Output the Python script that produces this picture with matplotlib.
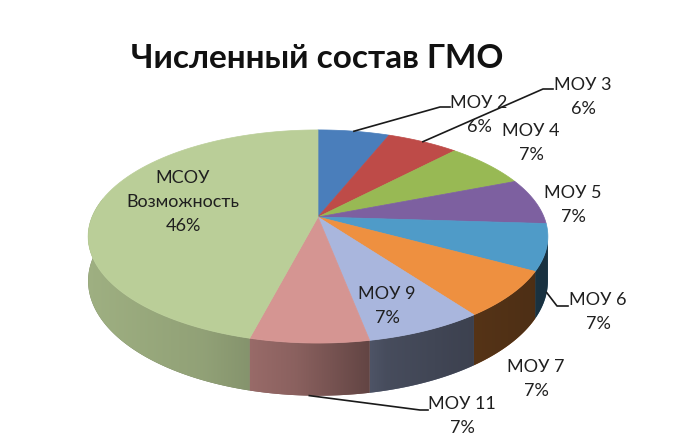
import numpy as np
import matplotlib.pyplot as plt
from matplotlib.colors import to_rgb
from matplotlib.patches import Polygon

# данные диаграммы
labels = ["МОУ 2", "МОУ 3", "МОУ 4", "МОУ 5", "МОУ 6", "МОУ 7", "МОУ 9", "МОУ 11", "МСОУ\nВозможность"]
shares = [6, 6, 7, 7, 7, 7, 7, 7, 46]
colors = ["#4A7EBB", "#BE4B48", "#98B954", "#7D60A0", "#4F9BC8",
          "#EE9040", "#A9B6DD", "#D59592", "#BACE98"]

# положение подписей (центр блока текста) и выноски
label_pos = {
    "МОУ 2": (479, 115), "МОУ 3": (583, 97), "МОУ 4": (531, 143),
    "МОУ 5": (573, 205), "МОУ 6": (598, 312), "МОУ 7": (536, 379),
    "МОУ 9": (387, 306), "МОУ 11": (462, 416), "МСОУ\nВозможность": (183, 202),
}
# (x начала, y, длина горизонтального участка, z на торце: 0 - верх, 1 - низ)
leaders = {
    "МОУ 2": (450, 107, 10, 0),
    "МОУ 3": (553, 89, 10, 0),
    "МОУ 6": (568, 306, 11, 1),
    "МОУ 11": (428, 410, 8, 1),
}

# параметры "3D" эллипса
CX, CY = 318, 217
A, B, K, D = 226, 103, 0.183, 43


def proj(theta, z=0.0):
    t = np.radians(theta)
    u, v = np.cos(t), np.sin(t)
    w = 1 + K * v
    return CX + A * u / w, CY + (-B * v + D * z) / w


def shade(u):
    return np.interp(u, [-1, -0.5, -0.1, 0.3, 0.6, 1],
                     [0.85, 0.78, 0.65, 0.42, 0.37, 0.32])


fig = plt.figure(figsize=(6.78, 4.41), dpi=100)
ax = fig.add_axes([0, 0, 1, 1])
ax.set_xlim(0, 678)
ax.set_ylim(441, 0)
ax.axis("off")

total = sum(shares)
bounds = 90 - 360 * np.concatenate([[0], np.cumsum(shares)]) / total
vis_lo, vis_hi = -180 - np.degrees(np.arcsin(K)), -np.degrees(np.arcsin(K))

# боковая стенка: градиент, обрезанный по контуру сектора
for i in range(len(shares)):
    a1, a2 = bounds[i], bounds[i + 1]
    lo, hi = max(a2, vis_lo), min(a1, vis_hi)
    if lo >= hi:
        continue
    th = np.linspace(hi, lo, 100)
    xt, yt = proj(th, 0)
    xb, yb = proj(th[::-1], 1)
    pts = np.column_stack([np.r_[xt, xb], np.r_[yt, yb]])
    base = np.array(to_rgb(colors[i]))
    poly = Polygon(pts, closed=True, fc=base * 0.6, ec="none")
    ax.add_patch(poly)
    x0, x1 = pts[:, 0].min() - 2, pts[:, 0].max() + 2
    y0, y1 = pts[:, 1].min() - 2, pts[:, 1].max() + 2
    gx = np.linspace(x0, x1, 300)
    g = np.clip(base[None, :] * shade((gx - CX) / A)[:, None], 0, 1)
    img = np.repeat(g[None, :, :], 2, axis=0)
    im = ax.imshow(img, extent=(x0, x1, y1, y0), aspect="auto",
                   interpolation="bilinear", zorder=1.5)
    im.set_clip_path(poly)
ax.set_xlim(0, 678)
ax.set_ylim(441, 0)

# верхняя грань
for i in range(len(shares)):
    th = np.linspace(bounds[i], bounds[i + 1], 80)
    xs, ys = proj(th, 0)
    ax.fill(np.r_[CX, xs], np.r_[CY, ys], color=colors[i], ec=colors[i],
            lw=0.5, zorder=2)

# подписи
font = "Lato"
for i, lab in enumerate(labels):
    x, y = label_pos[lab]
    ax.text(x, y, f"{lab}\n{shares[i]}%", ha="center", va="center",
            fontsize=13, family=font, color="#1f1f1f", linespacing=1.6,
            zorder=4)
    if lab in leaders:
        lx, ly, ln, z = leaders[lab]
        mid = (bounds[i] + bounds[i + 1]) / 2
        px, py = proj(mid, z)
        ax.plot([lx, lx - ln, px], [ly, ly, py], color="#1a1a1a", lw=1.2,
                zorder=3)

ax.text(317, 68, "Численный состав ГМО", ha="center", va="baseline",
        fontsize=24, family=font, fontweight="bold", color="#111111")

fig.savefig("out.png", dpi=100, facecolor="white")
